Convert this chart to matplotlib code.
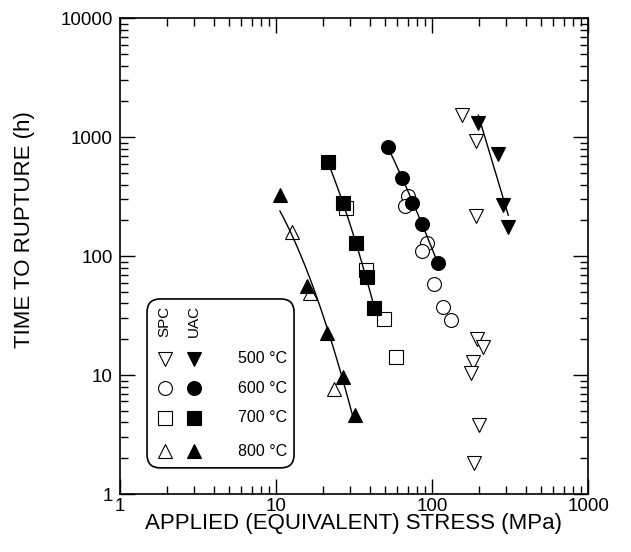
import numpy as np
import matplotlib
matplotlib.use("Agg")
import matplotlib.pyplot as plt
from matplotlib.patches import FancyBboxPatch

plt.rcParams['font.family'] = ['Liberation Sans', 'DejaVu Sans']

# stress (MPa) / time to rupture (h)
spc_500_s = [155, 191, 191, 195, 211, 182, 177, 201, 187]
spc_500_t = [1530, 930, 217, 20.3, 17.1, 12.9, 10.5, 3.8, 1.81]
uac_500_s = [198, 266, 284, 308]
uac_500_t = [1320, 719, 268, 176]

spc_600_s = [70.2, 67.1, 92.9, 86.3, 103, 117.7, 132.4]
spc_600_t = [319, 263, 128.6, 110, 58.2, 37.3, 29.0]
uac_600_s = [52.0, 64.5, 74.8, 86.7, 108.8]
uac_600_t = [829, 455, 280, 188, 86.9]

spc_700_s = [28.1, 37.8, 49.5, 58.8]
spc_700_t = [256, 76.3, 29.5, 14.2]
uac_700_s = [21.6, 26.8, 32.4, 38.1, 42.5]
uac_700_t = [613, 277, 130, 67.0, 36.8]

spc_800_s = [12.6, 16.5, 23.6]
spc_800_t = [160, 48.6, 7.58]
uac_800_s = [10.6, 15.9, 21.3, 27.0, 32.1]
uac_800_t = [326, 56.0, 22.4, 9.68, 4.61]

# points (it does not follow the UAC points)
fit_800_s = [10.6, 12.6, 16.9, 21.1, 27.0, 31.8]
fit_800_t = [236, 160, 56, 25.5, 9.68, 3.80]

temps = ['500 °C', '600 °C', '700 °C', '800 °C']
markers = ['v', 'o', 's', '^']
sizes = [10, 10, 10.5, 10]

spc = [(spc_500_s, spc_500_t), (spc_600_s, spc_600_t),
       (spc_700_s, spc_700_t), (spc_800_s, spc_800_t)]
uac = [(uac_500_s, uac_500_t), (uac_600_s, uac_600_t),
       (uac_700_s, uac_700_t), (uac_800_s, uac_800_t)]
# trend curves and the polynomial degree used in log-log space
curves = [(uac_500_s, uac_500_t, 1), (uac_600_s, uac_600_t, 2),
          (uac_700_s, uac_700_t, 2), (fit_800_s, fit_800_t, 2)]

fig = plt.figure(figsize=(6.31, 5.52), dpi=100)
ax = fig.add_axes([0.190, 0.105, 0.742, 0.862])

for (s, t), m, ms in zip(spc, markers, sizes):
    ax.plot(s, t, m, ms=ms, mfc='white', mec='black', mew=0.8, ls='none', zorder=3)
for (s, t), m, ms in zip(uac, markers, sizes):
    ax.plot(s, t, m, ms=ms, mfc='black', mec='black', mew=0.8, ls='none', zorder=4)

for s, t, deg in curves:
    ls_, lt_ = np.log10(s), np.log10(t)
    c = np.polyfit(ls_, lt_, deg)
    xx = np.linspace(ls_.min(), ls_.max(), 60)
    ax.plot(10 ** xx, 10 ** np.polyval(c, xx), color='black', lw=1.0, zorder=5)

ax.set_xscale('log')
ax.set_yscale('log')
ax.set_xlim(1, 1000)
ax.set_ylim(1, 10000)
ax.set_xticks([1, 10, 100, 1000])
ax.set_xticklabels(['1', '10', '100', '1000'])
ax.set_yticks([1, 10, 100, 1000, 10000])
ax.set_yticklabels(['1', '10', '100', '1000', '10000'])
ax.tick_params(which='both', direction='in', top=True, right=True, width=1.0)
ax.tick_params(which='major', length=11, labelsize=13.5)
ax.tick_params(axis='x', which='major', pad=2.5)
ax.tick_params(axis='y', which='major', pad=5)
ax.tick_params(which='minor', length=5.5)
for sp in ax.spines.values():
    sp.set_linewidth(1.2)

ax.set_xlabel('APPLIED (EQUIVALENT) STRESS (MPa)', fontsize=16, va='center')
ax.xaxis.set_label_coords(0.5, -0.062)
ax.set_ylabel('TIME TO RUPTURE (h)', fontsize=16, va='center')
ax.yaxis.set_label_coords(-0.203, 0.555)

# hand-built legend box
box = FancyBboxPatch((0.058, 0.055), 0.314, 0.355, transform=ax.transAxes,
                     boxstyle='round,pad=0,rounding_size=0.028',
                     fc='white', ec='black', lw=1.2, zorder=6)
ax.add_patch(box)
col_spc, col_uac = 0.096, 0.158
ax.text(col_spc, 0.363, 'SPC', rotation=90, ha='center', va='center',
        fontsize=11, transform=ax.transAxes, zorder=7)
ax.text(col_uac, 0.363, 'UAC', rotation=90, ha='center', va='center',
        fontsize=11, transform=ax.transAxes, zorder=7)
rows = [0.284, 0.222, 0.160, 0.090]
for y, m, ms, lab in zip(rows, markers, sizes, temps):
    ax.plot([col_spc], [y], m, ms=ms, mfc='white', mec='black', mew=0.8,
            transform=ax.transAxes, zorder=7, clip_on=False)
    ax.plot([col_uac], [y], m, ms=ms, mfc='black', mec='black', mew=0.8,
            transform=ax.transAxes, zorder=7, clip_on=False)
    ax.text(0.357, y, lab, ha='right', va='center', fontsize=11.5,
            transform=ax.transAxes, zorder=7)

fig.savefig('out.png', dpi=100)
